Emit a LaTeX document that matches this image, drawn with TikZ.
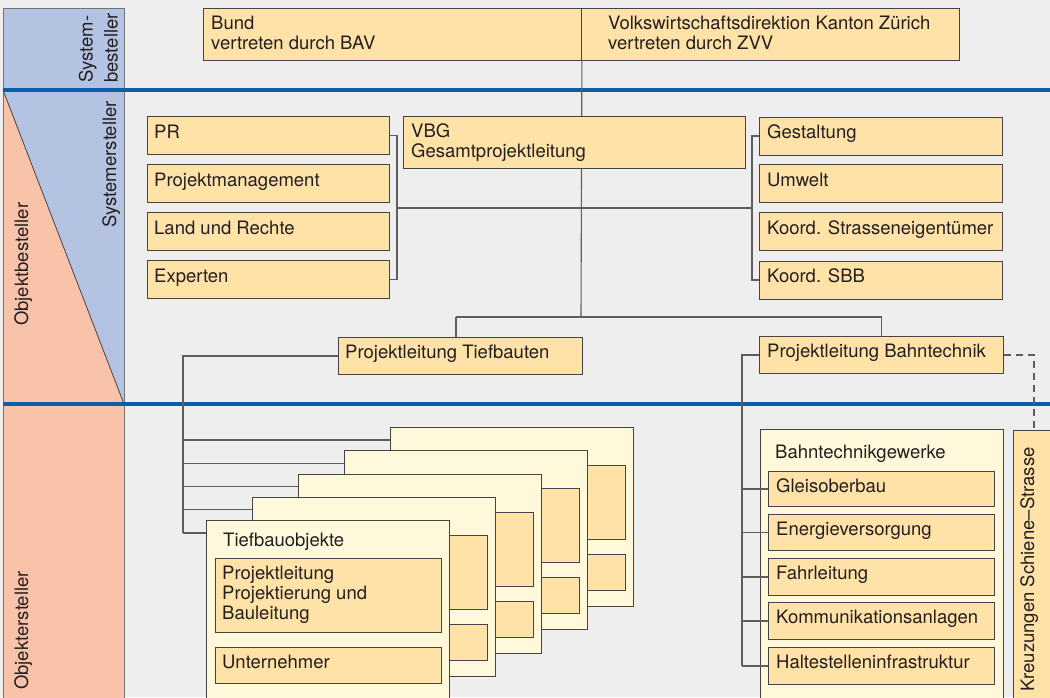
\documentclass[tikz,border=0pt]{standalone}
\usepackage{fontspec}
\setmainfont{TeX Gyre Heros}
\usetikzlibrary{calc}
\definecolor{bgc}{HTML}{EDEEED}
\definecolor{boxc}{HTML}{FFE2A7}
\definecolor{cardc}{HTML}{FFF8DA}
\definecolor{sideblue}{HTML}{B5C3E2}
\definecolor{sidepink}{HTML}{F8C3A9}
\definecolor{rulec}{HTML}{0B5DA7}
\definecolor{edgec}{HTML}{444444}
\definecolor{linec}{HTML}{5E5E5E}
\definecolor{txtc}{HTML}{231F20}
\pgfdeclarelayer{back}
\pgfdeclarelayer{links}
\pgfsetlayers{back,links,main}
\begin{document}
\begin{tikzpicture}[x=1pt,y=-1pt,
  every node/.style={font=\fontsize{18.5}{20}\selectfont, text=txtc},
  sz/.style 2 args={minimum width=#1pt, minimum height=#2pt},
  box/.style={draw=edgec, line width=0.9pt, fill=boxc, inner sep=0pt, anchor=north west},
  card/.style={draw=edgec, line width=0.9pt, fill=cardc, inner sep=0pt, anchor=north west, minimum width=243pt, minimum height=179pt},
  lbl/.style={inner sep=0pt, anchor=base west},
  mlbl/.style={inner sep=0pt, anchor=north west, align=left},
  link/.style={draw=linec, line width=1.1pt},
  dashlink/.style={draw=linec, line width=1.1pt, dash pattern=on 7pt off 5pt},
  siderot/.style={inner sep=0pt, rotate=90, anchor=base west},
  sidemulti/.style={inner sep=0pt, rotate=90, anchor=north west, align=left, font=\fontsize{18.5}{25}\selectfont},
]
\useasboundingbox (0,0) rectangle (1050,697);

% ---------- background, sidebar, rules ----------
\begin{pgfonlayer}{back}
  \fill[bgc] (0,0) rectangle (1050,697);
  \fill[sideblue] (3,8) rectangle (124,404);
  \fill[sidepink] (3,90) -- (124,404) -- (3,404) -- cycle;
  \fill[sidepink] (3,404) rectangle (124,700);
  \draw[edgec, line width=0.8pt] (3,90) -- (124,404);
  \draw[black!55, line width=1pt] (3,700) -- (3,8) -- (124,8) -- (124,700);
  \draw[rulec, line width=4pt] (3,90) -- (1050,90);
  \draw[rulec, line width=4pt] (3,404) -- (1050,404);
\end{pgfonlayer}

\node[sidemulti] (sysbest) at (78.5,83) {System-\\besteller};
\node[siderot] (syserst) at (116,228) {Systemersteller};
\node[siderot] (objbest) at (28,326) {Objektbesteller};
\node[siderot] (objerst) at (28,690) {Objektersteller};

% ---------- top level ----------
\node[box, sz={378}{52}] (bund) at (203,8) {};
\node[box, sz={378}{52}] (kanton) at (581,8) {};
\node[mlbl] (tbund) at (211,15.6) {Bund\\vertreten durch BAV};
\node[mlbl] (tkanton) at (608,15.6) {Volkswirtschaftsdirektion Kanton Zürich\\vertreten durch ZVV};

\node[box, sz={342}{52}] (vbg) at (403,116) {};
\node[mlbl] (tvbg) at (411,123.4) {VBG\\Gesamtprojektleitung};

% left staff boxes
\node[box, sz={242}{38}] (pr)   at (147,116) {};
\node[box, sz={242}{38}] (pm)   at (147,164) {};
\node[box, sz={242}{38}] (land) at (147,212) {};
\node[box, sz={242}{38}] (exp)  at (147,260) {};
\node[lbl] (tpr)   at ($(pr.north west)+(7,22)$) {PR};
\node[lbl] (tpm)   at ($(pm.north west)+(7,22)$) {Projektmanagement};
\node[lbl] (tland) at ($(land.north west)+(7,22)$) {Land und Rechte};
\node[lbl] (texp)  at ($(exp.north west)+(7,22)$) {Experten};

% right staff boxes
\node[box, sz={243}{38}] (gest) at (759,116.5) {};
\node[box, sz={243}{38}] (umw)  at (759,164) {};
\node[box, sz={243}{38}] (str)  at (759,212) {};
\node[box, sz={243}{38}] (sbb)  at (759,260.5) {};
\node[lbl] (tgest) at ($(gest.north west)+(8,22)$) {Gestaltung};
\node[lbl] (tumw)  at ($(umw.north west)+(8,22)$) {Umwelt};
\node[lbl] (tstr)  at ($(str.north west)+(8,22)$) {Koord. Strasseneigentümer};
\node[lbl] (tsbb)  at ($(sbb.north west)+(8,22)$) {Koord. SBB};

% project leaders
\node[box, sz={244}{37}] (pltief) at (338,337) {};
\node[lbl] (tpltief) at ($(pltief.north west)+(7,21)$) {Projektleitung Tiefbauten};
\node[box, sz={244}{37}] (plbahn) at (759,336) {};
\node[lbl] (tplbahn) at ($(plbahn.north west)+(8,21)$) {Projektleitung Bahntechnik};

% ---------- Tiefbau object cards ----------
\coordinate (tbus) at (183,0);
\foreach \k in {0,...,4} {
  \pgfmathsetmacro\cl{390-46*\k}
  \pgfmathsetmacro\ct{427+23.25*\k}
  \node[card] (card\k) at (\cl,\ct) {};
  \node[box, sz={226}{74}] (cardA\k) at (\cl+9,\ct+38) {};
  \node[box, sz={226}{36}] (cardB\k) at (\cl+9,\ct+127) {};
  \coordinate (cardin\k) at (\cl,\ct+13);
}
\node[lbl] (ttief) at ($(card4.north west)+(17,26)$) {Tiefbauobjekte};
\node[mlbl] (tpl) at ($(cardA4.north west)+(7,7.6)$) {Projektleitung\\Projektierung und\\Bauleitung};
\node[lbl] (tunt) at ($(cardB4.north west)+(7,21)$) {Unternehmer};

% ---------- Bahntechnik card ----------
\node[card, minimum height=300pt] (btcard) at (760,429) {};
\node[lbl] (tbt) at (775,458) {Bahntechnikgewerke};
\node[box, sz={226}{35}] (gleis)   at (768,471) {};
\node[box, sz={226}{36}] (energie) at (768,514) {};
\node[box, sz={226}{37}] (fahr)    at (768,558) {};
\node[box, sz={226}{37}] (komm)    at (768,602) {};
\node[box, sz={226}{37}] (halt)    at (768,647) {};
\node[lbl] (tgleis)   at ($(gleis.north west)+(8,21)$) {Gleisoberbau};
\node[lbl] (tenergie) at ($(energie.north west)+(8,21)$) {Energieversorgung};
\node[lbl] (tfahr)    at ($(fahr.north west)+(8,21)$) {Fahrleitung};
\node[lbl] (tkomm)    at ($(komm.north west)+(8,21)$) {Kommunikationsanlagen};
\node[lbl] (thalt)    at ($(halt.north west)+(8,21)$) {Haltestelleninfrastruktur};

% ---------- Kreuzungen ----------
\node[box, sz={50}{300}] (kreuz) at (1013,430) {};
\node[siderot] (tkreuz) at (1034,692) {Kreuzungen Schiene–Strasse};

% ---------- connectors ----------
\coordinate (split) at (581,317);
\coordinate (tdrop) at (456,317);
\coordinate (lb) at (397,208);
\coordinate (rb) at (752,208);
\coordinate (bbus) at (742,0);
\coordinate (kx) at (1034,0);
\begin{pgfonlayer}{links}
  \draw[link] (bund.south east) -- (split);
  \draw[link] (tdrop) -- (split) -| (plbahn.north);
  \draw[link] (tdrop) -- (tdrop |- pltief.north);
  \draw[link] (pr.east) -- (pr.east -| lb) -- (exp.east -| lb) -- (exp.east);
  \draw[link] (lb) -- (rb);
  \draw[link] (gest.west) -- (gest.west -| rb) -- (sbb.west -| rb) -- (sbb.west);
  \draw[link] (pltief.west) -- (pltief.west -| tbus) -- (cardin4 -| tbus);
  \foreach \k in {0,...,4} {\draw[link] (cardin\k -| tbus) -- (cardin\k);}
\end{pgfonlayer}
\draw[link] (plbahn.west) -- (plbahn.west -| bbus) -- (halt.west -| bbus);
\foreach \b in {gleis,energie,fahr,komm,halt} {\draw[link] (\b.west -| bbus) -- (\b.west);}
\draw[dashlink] (plbahn.east) -- (plbahn.east -| kx) -- (kreuz.north -| kx);
\end{tikzpicture}
\end{document}
